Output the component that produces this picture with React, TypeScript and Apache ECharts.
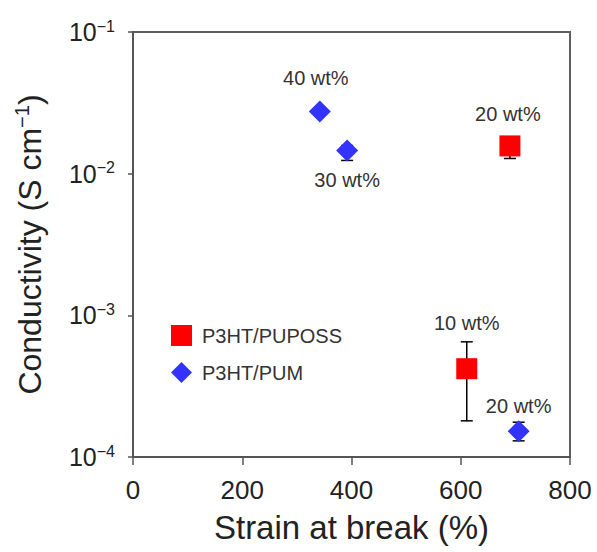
import React, { useEffect, useRef } from "react";
import * as echarts from "echarts";

// P3HT/PUPOSS (red squares)
const pupossStrain = [690, 611];
const pupossCond = [0.0157, 4.2e-4];
const pupossLow = [0.0128, 1.8e-4];
const pupossHigh = [0.0175, 6.5e-4];
const pupossLabels = ["20 wt%", "10 wt%"];

// P3HT/PUM (blue diamonds)
const pumStrain = [342, 392, 706];
const pumCond = [0.0275, 0.0146, 1.52e-4];
const pumLow = [0.0275, 0.0124, 1.3e-4];
const pumHigh = [0.0275, 0.0158, 1.76e-4];
const pumLabels = ["40 wt%", "30 wt%", "20 wt%"];

const seriesNames = ["P3HT/PUPOSS", "P3HT/PUM"];
const xTicks = { min: 0, max: 800, interval: 200 };
const yTicks = { min: 1e-4, max: 1e-1 };

// label offsets (style only)
const pupossLabelOffsets = [[-2, -32], [0, -46]];
const pumLabelOffsets = [[-4, -33], [0, 30], [0, -25]];

const FONT = "Liberation Sans, Arial, sans-serif";

export default function App() {
  const ref = useRef<HTMLDivElement>(null);
  useEffect(() => {
    if (!ref.current) return;
    const chart = echarts.init(ref.current, undefined, { renderer: "svg" });

    const errRender = (params: any, api: any) => {
      const x = api.value(0);
      const lo = api.value(1);
      const hi = api.value(2);
      const p1 = api.coord([x, hi]);
      const p2 = api.coord([x, lo]);
      const w = 6;
      const st = { stroke: "#000", lineWidth: 1.5 };
      return {
        type: "group",
        children: [
          { type: "line", shape: { x1: p1[0], y1: p1[1], x2: p2[0], y2: p2[1] }, style: st },
          { type: "line", shape: { x1: p1[0] - w, y1: p1[1], x2: p1[0] + w, y2: p1[1] }, style: st },
          { type: "line", shape: { x1: p2[0] - w, y1: p2[1], x2: p2[0] + w, y2: p2[1] }, style: st },
        ],
      };
    };

    const labelStyle = {
      show: true,
      position: "inside",
      fontSize: 20,
      color: "#333",
      fontFamily: FONT,
      formatter: (p: any) => p.name,
    };

    const mkPoints = (xs: number[], ys: number[], names: string[], offs: number[][]) =>
      xs.map((x, i) => ({
        value: [x, ys[i]],
        name: names[i],
        label: { offset: offs[i] },
      }));

    chart.setOption({
      animation: false,
      backgroundColor: "#fff",
      grid: {
        left: 133,
        right: 27,
        top: 32,
        bottom: 95,
        show: true,
        borderColor: "#606060",
        borderWidth: 2,
        backgroundColor: "transparent",
      },
      legend: {
        orient: "vertical",
        left: 166,
        top: 320,
        itemWidth: 21,
        itemHeight: 21,
        itemGap: 16,
        data: seriesNames,
        textStyle: { fontSize: 20, color: "#333", fontFamily: FONT, padding: [0, 0, 0, 5] },
      },
      xAxis: {
        type: "value",
        min: xTicks.min,
        max: xTicks.max,
        interval: xTicks.interval,
        name: "Strain at break (%)",
        nameLocation: "middle",
        nameGap: 54,
        nameTextStyle: { fontSize: 33, color: "#222", fontFamily: FONT },
        axisLine: { show: true, lineStyle: { color: "#555", width: 2 } },
        axisTick: { show: true, inside: false, length: 8, lineStyle: { color: "#555", width: 1.5 } },
        axisLabel: { fontSize: 26, color: "#222", fontFamily: FONT, margin: 20 },
        splitLine: { show: false },
      },
      yAxis: {
        type: "log",
        logBase: 10,
        min: yTicks.min,
        max: yTicks.max,
        name: "{a|Conductivity (S cm}{s|−1}{a|)}",
        nameLocation: "middle",
        nameGap: 86,
        nameRotate: 90,
        nameTextStyle: {
          fontFamily: FONT,
          color: "#222",
          rich: {
            a: { fontSize: 32, color: "#222", fontFamily: FONT, lineHeight: 35 },
            s: { fontSize: 20, color: "#222", fontFamily: FONT, verticalAlign: "top" },
          },
        },
        axisLine: { show: true, lineStyle: { color: "#555", width: 2 } },
        axisTick: { show: true, inside: false, length: 5, lineStyle: { color: "#555", width: 1.5 } },
        minorTick: { show: false },
        splitLine: { show: false },
        axisLabel: {
          margin: 18,
          formatter: (v: number) => {
            const n = Math.round(Math.log10(v));
            return `{b|10}{s|${n < 0 ? "−" + -n : n}}`;
          },
          rich: {
            b: { fontSize: 25, color: "#222", fontFamily: FONT, lineHeight: 28 },
            s: { fontSize: 16, color: "#222", fontFamily: FONT, verticalAlign: "top" },
          },
        },
      },
      series: [
        {
          type: "custom",
          name: "errPUPOSS",
          renderItem: errRender,
          data: pupossStrain.map((x, i) => [x, pupossLow[i], pupossHigh[i]]),
          encode: { x: 0, y: [1, 2] },
          z: 1,
          silent: true,
        },
        {
          type: "custom",
          name: "errPUM",
          renderItem: errRender,
          data: pumStrain.map((x, i) => [x, pumLow[i], pumHigh[i]]),
          encode: { x: 0, y: [1, 2] },
          z: 1,
          silent: true,
        },
        {
          type: "scatter",
          name: seriesNames[0],
          symbol: "rect",
          symbolSize: 21,
          itemStyle: { color: "#ff0000", opacity: 1 },
          label: labelStyle,
          data: mkPoints(pupossStrain, pupossCond, pupossLabels, pupossLabelOffsets),
          z: 3,
        },
        {
          type: "scatter",
          name: seriesNames[1],
          symbol: "diamond",
          symbolSize: 22,
          itemStyle: { color: "#3333ff", opacity: 1 },
          label: labelStyle,
          data: mkPoints(pumStrain, pumCond, pumLabels, pumLabelOffsets),
          z: 3,
        },
      ],
    });
    return () => chart.dispose();
  }, []);
  return (
    <div
      ref={ref}
      style={{ position: "fixed", left: 0, top: 0, width: 597, height: 552, background: "#fff" }}
    />
  );
}
